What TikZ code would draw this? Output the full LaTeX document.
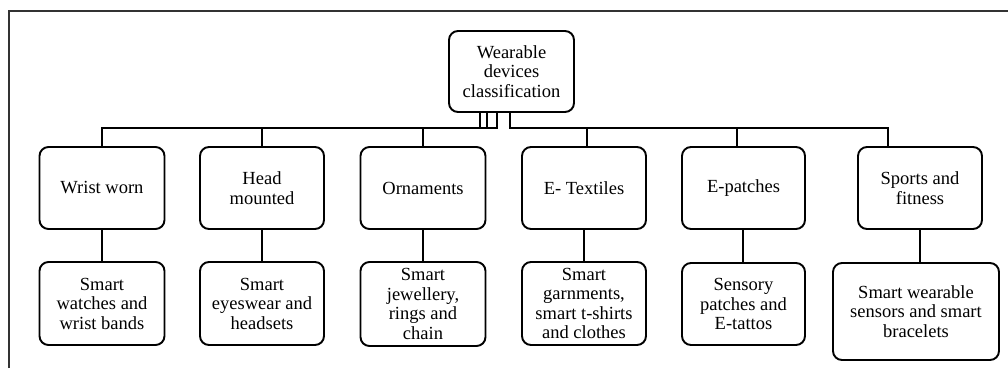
\documentclass[tikz,border=0pt]{standalone}
\usepackage{fontspec}
\setmainfont{Liberation Serif}
\begin{document}
\begin{tikzpicture}[x=1pt,y=-1pt,
  box/.style={draw=black, line width=1.9pt, rounded corners=9pt, align=center,
    inner sep=0pt, font=\fontsize{18.5}{19.5}\selectfont},
  conn/.style={draw=black, line width=2pt}]
\useasboundingbox (0,0) rectangle (1008,368);
\draw[black!80, line width=1.5pt] (9,368) -- (9,11) -- (1008,11);
% top
\node[box, minimum width=125pt, minimum height=81pt] (top) at (511.5,71.5) {Wearable\\devices\\classification};
% row 1
\node[box, minimum width=125pt, minimum height=82pt] (wrist) at (102,188) {Wrist worn};
\node[box, minimum width=124pt, minimum height=82pt] (head) at (262,188) {Head\\mounted};
\node[box, minimum width=125pt, minimum height=82pt] (orn) at (423,188) {Ornaments};
\node[box, minimum width=124pt, minimum height=82pt] (etex) at (584,188) {E- Textiles};
\node[box, minimum width=123pt, minimum height=82pt] (epat) at (743.5,188) {E-patches};
\node[box, minimum width=124pt, minimum height=82pt] (sport) at (920,188) {Sports and\\fitness};
% row 2
\node[box, minimum width=125pt, minimum height=83pt] (swatch) at (102,303.5) {Smart\\watches and\\wrist bands};
\node[box, minimum width=124pt, minimum height=83pt] (seye) at (262,303.5) {Smart\\eyeswear and\\headsets};
\node[box, minimum width=125pt, minimum height=84pt] (sjew) at (423,304) {Smart\\jewellery,\\rings and\\chain};
\node[box, minimum width=124pt, minimum height=83pt] (sgar) at (584,303.5) {Smart\\garnments,\\smart t-shirts\\and clothes};
\node[box, minimum width=123pt, minimum height=82pt] (sens) at (743.5,304) {Sensory\\patches and\\E-tattos};
\node[box, minimum width=166pt, minimum height=97pt] (swear) at (916,311.5) {Smart wearable\\sensors and smart\\bracelets};
% bus
\coordinate (bus) at (0,128);
\draw[conn] (480,0 |- top.south) -- (480,0 |- bus) -| (wrist.north);
\draw[conn] (487,0 |- top.south) -- (487,0 |- bus) -| (head.north);
\draw[conn] (497,0 |- top.south) -- (497,0 |- bus) -| (orn.north);
\draw[conn] (510,0 |- top.south) -- (510,0 |- bus) -| (888,0 |- sport.north);
\draw[conn] (587,0 |- bus) -- (587,0 |- etex.north);
\draw[conn] (737,0 |- bus) -- (737,0 |- epat.north);
% row connectors
\draw[conn] (wrist.south) -- (swatch.north);
\draw[conn] (head.south) -- (seye.north);
\draw[conn] (orn.south) -- (sjew.north);
\draw[conn] (etex.south) -- (sgar.north);
\draw[conn] (743,0 |- epat.south) -- (743,0 |- sens.north);
\draw[conn] (sport.south) -- (sport.south |- swear.north);
\end{tikzpicture}
\end{document}
